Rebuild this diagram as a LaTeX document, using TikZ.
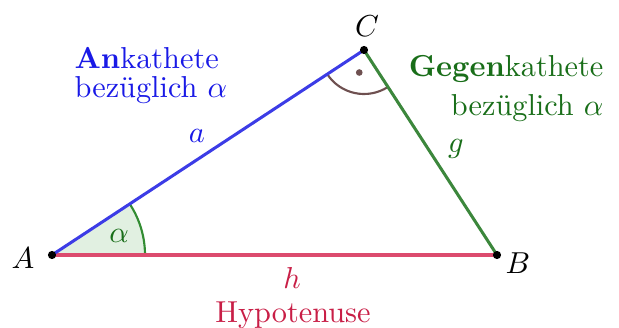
\documentclass[tikz,border=0pt]{standalone}
\usetikzlibrary{calc}
\begin{document}
\definecolor{blueline}{RGB}{60,60,230}
\definecolor{bluetext}{RGB}{25,25,230}
\definecolor{greenline}{RGB}{60,135,60}
\definecolor{greentext}{RGB}{25,110,25}
\definecolor{redline}{RGB}{220,75,110}
\definecolor{redtext}{RGB}{200,30,70}
\definecolor{arcgreen}{RGB}{50,140,50}
\definecolor{arcfill}{RGB}{225,240,225}
\definecolor{arcbrown}{RGB}{110,80,80}
\begin{tikzpicture}[x=0.33pt,y=-0.33pt,
  pt/.style={circle,fill=black,inner sep=0pt,minimum size=2.7pt},
  side/.style={line width=1pt},
  lbl/.style={anchor=base,inner sep=0pt}]
\useasboundingbox (0,0) rectangle (619,327);
% points
\coordinate (A) at (52,255);
\coordinate (B) at (497,255);
\coordinate (C) at (364,50);
% angle alpha
\fill[arcfill] (A) -- ($(A)+(0:93)$) arc[start angle=0,end angle=-33.3,radius=93] -- cycle;
\draw[arcgreen,line width=0.7pt] ($(A)+(0:93)$) arc[start angle=0,end angle=-33.3,radius=93];
% right angle at C
\draw[arcbrown,line width=0.7pt] ($(C)+(57:44)$) arc[start angle=57,end angle=146.7,radius=44];
\fill[arcbrown] ($(C)+(101.9:23)$) circle[radius=1.1pt];
% sides
\draw[side,redline] (A) -- (B);
\draw[side,blueline] (A) -- (C);
\draw[side,greenline] (C) -- (B);
% points
\node[pt] (pA) at (A) {};
\node[pt] (pB) at (B) {};
\node[pt] (pC) at (C) {};
% labels
\node[lbl] (lA) at (23,268) {$A$};
\node[lbl] (lB) at (518,273) {$B$};
\node[lbl] (lC) at (367,36) {$C$};
\node[lbl,text=greentext] (lal) at (119,242) {$\alpha$};
\node[lbl,text=bluetext] (la) at (197,142) {$a$};
\node[lbl,text=greentext] (lg) at (456,152) {$g$};
\node[lbl,text=redtext] (lh) at (292,288) {$h$};
\node[lbl,text=redtext] (hyp) at (293,322) {Hypotenuse};
\node[lbl,anchor=base west,text=bluetext] (an1) at (74,68) {\textbf{An}kathete};
\node[lbl,anchor=base west,text=bluetext] (an2) at (74,97) {bezüglich $\alpha$};
\node[lbl,anchor=base east,text=greentext] (ge1) at (604,76) {\textbf{Gegen}kathete};
\node[lbl,anchor=base east,text=greentext] (ge2) at (604,115) {bezüglich $\alpha$};
\end{tikzpicture}
\end{document}
